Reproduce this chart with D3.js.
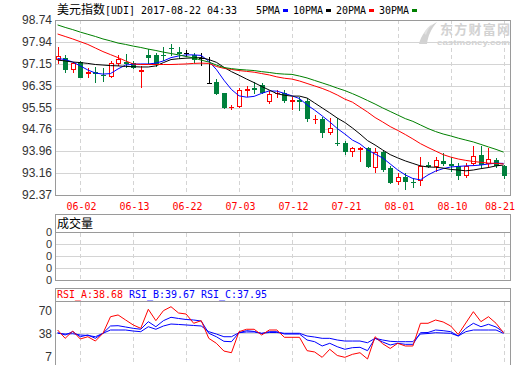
<!DOCTYPE html>
<html>
<head>
<meta charset="utf-8">
<script src="https://cdn.jsdelivr.net/npm/d3@7"></script>
<style>
  body { margin: 0; background: #fff; }
  svg { display: block; }
</style>
</head>
<body>
<div id="chart"></div>
<script>
// trading days shown on the chart
const dates = ["05-30","05-31","06-01","06-02","06-05","06-06","06-07","06-08","06-09","06-12",
    "06-13","06-14","06-15","06-16","06-19","06-20","06-21","06-22","06-23","06-26",
    "06-27","06-28","06-29","06-30","07-03","07-04","07-05","07-06","07-07","07-10",
    "07-11","07-12","07-13","07-14","07-17","07-18","07-19","07-20","07-21","07-24",
    "07-25","07-26","07-27","07-28","07-31","08-01","08-02","08-03","08-04","08-07",
    "08-08","08-09","08-10","08-11","08-14","08-15","08-16","08-17","08-18","08-21"];

const opens = [97.32,97.35,96.97,97.22,96.81,96.84,96.74,96.71,97.19,97.21,
    97.19,96.90,97.45,97.46,97.47,97.73,97.58,97.53,97.47,97.35,
    96.46,96.49,96.07,95.57,95.62,96.20,96.26,96.37,95.80,96.08,
    96.08,95.79,95.81,95.80,95.12,95.12,94.67,94.28,94.25,93.98,
    94.06,94.07,93.40,93.95,93.34,92.88,93.04,92.86,92.92,93.46,
    93.41,93.62,93.49,93.41,93.09,93.52,93.82,93.52,93.64,93.43];
const highs = [97.76,97.45,97.22,97.26,96.98,97.04,96.99,97.26,97.46,97.50,
    97.25,97.06,97.67,97.55,97.76,97.87,97.77,97.65,97.53,97.53,
    97.40,96.58,96.09,95.65,96.25,96.34,96.49,96.44,96.17,96.19,
    96.19,95.93,95.93,95.89,95.28,95.20,95.16,95.16,94.35,94.13,
    94.13,94.13,94.07,94.01,93.43,93.16,93.16,92.98,93.77,93.58,
    93.76,93.89,93.76,93.52,93.52,94.15,94.15,94.09,93.72,93.46];
const lows = [97.17,96.86,96.86,96.65,96.65,96.50,96.53,96.65,97.10,97.04,
    97.00,96.31,97.17,97.06,97.30,97.46,97.35,97.43,97.22,97.10,
    96.43,96.05,95.53,95.49,95.58,95.97,96.07,96.07,95.73,95.95,
    95.75,95.49,95.46,95.07,94.98,94.49,94.59,94.19,93.86,93.79,
    93.62,93.38,93.22,93.25,92.79,92.77,92.58,92.65,92.74,93.38,
    93.26,93.46,93.26,92.94,93.04,93.46,93.38,93.38,93.38,92.98];
const closes = [97.42,96.95,97.18,96.68,96.83,96.82,96.72,97.16,97.31,97.19,
    97.04,96.93,97.41,97.14,97.45,97.71,97.55,97.53,97.31,97.35,
    96.46,96.07,95.58,95.59,96.19,96.22,96.24,96.13,96.04,96.10,
    95.83,95.81,95.79,95.16,95.14,94.67,94.80,94.26,93.98,94.07,
    94.08,93.43,93.95,93.30,92.85,93.01,92.89,92.84,93.42,93.44,
    93.64,93.52,93.47,93.09,93.41,93.79,93.50,93.67,93.45,93.09];

// moving averages as drawn
const ma5 = [97.34,97.30,97.21,97.07,96.92,96.81,96.77,96.79,96.96,97.10,
    97.13,97.14,97.14,97.17,97.25,97.37,97.43,97.47,97.47,97.45,
    97.24,96.94,96.55,96.21,95.98,95.93,95.96,96.07,96.16,96.15,
    96.07,95.98,95.88,95.65,95.46,95.25,95.03,94.79,94.59,94.37,
    94.23,94.01,93.86,93.72,93.50,93.28,93.10,92.97,92.92,93.10,
    93.24,93.33,93.39,93.41,93.43,93.44,93.46,93.50,93.53,93.52];
const ma10 = [97.28,97.25,97.21,97.19,97.16,97.12,97.10,97.08,97.07,97.05,
    97.04,97.03,97.03,97.07,97.19,97.30,97.33,97.35,97.36,97.37,
    97.30,97.20,97.02,96.86,96.73,96.59,96.46,96.32,96.19,96.06,
    96.00,95.97,95.97,95.90,95.72,95.54,95.36,95.17,95.01,94.81,
    94.59,94.35,94.19,94.01,93.84,93.72,93.61,93.52,93.43,93.39,
    93.38,93.35,93.30,93.28,93.25,93.28,93.33,93.37,93.43,93.46];
const ma20 = [98.23,98.14,98.05,97.95,97.85,97.72,97.59,97.48,97.37,97.25,
    97.14,97.12,97.12,97.12,97.12,97.12,97.13,97.14,97.16,97.17,
    97.16,97.05,96.98,96.94,96.90,96.87,96.84,96.79,96.74,96.67,
    96.62,96.59,96.52,96.43,96.34,96.25,96.14,96.01,95.86,95.75,
    95.57,95.39,95.19,95.03,94.86,94.72,94.57,94.41,94.24,94.10,
    93.97,93.84,93.75,93.68,93.63,93.59,93.56,93.53,93.52,93.50];
const ma30 = [98.56,98.47,98.39,98.30,98.22,98.14,98.05,97.98,97.90,97.85,
    97.79,97.74,97.68,97.63,97.57,97.52,97.47,97.41,97.36,97.28,
    97.21,97.10,97.01,96.97,96.94,96.92,96.90,96.86,96.83,96.79,
    96.77,96.76,96.70,96.63,96.54,96.45,96.36,96.26,96.17,96.06,
    95.94,95.81,95.68,95.54,95.41,95.28,95.15,95.05,94.92,94.79,
    94.68,94.59,94.52,94.44,94.37,94.30,94.21,94.12,94.03,93.93];

// RSI lines
const rsiA = [42.6,31.2,41.2,30.3,33.4,27.5,38.1,60.8,63.2,56.3,
    49.5,44.9,71.0,55.4,69.1,74.5,65.9,64.5,51.8,55.4,
    31.2,24.4,13.8,11.5,40.3,43.6,43.6,35.8,42.6,42.6,
    32.6,32.6,32.6,14.3,12.5,5.2,16.2,7.7,5.2,9.3,
    11.5,2.9,33.4,23.8,17.3,24.4,20.7,20.7,51.8,51.8,
    56.3,53.6,48.1,36.5,52.2,67.7,54.0,60.8,51.8,38.68];
const rsiB = [39.0,35.8,40.3,33.4,35.8,31.2,38.1,48.1,48.5,46.7,
    44.9,43.6,54.0,47.1,55.4,60.0,58.4,57.0,56.3,54.9,
    38.1,33.4,27.1,26.6,38.9,41.7,40.6,37.8,40.3,40.3,
    37.1,37.1,37.1,28.9,26.6,20.7,24.4,19.7,16.2,18.4,
    18.9,14.3,31.2,26.2,22.1,24.4,23.0,23.0,38.9,39.2,
    42.6,41.7,40.3,34.4,44.9,51.8,47.1,50.4,46.7,39.67];
const rsiC = [38.1,37.1,37.5,35.8,35.1,33.4,38.1,42.6,42.6,42.6,
    41.2,40.3,47.1,43.6,48.1,50.8,50.2,49.5,48.8,48.1,
    40.3,37.1,33.4,33.4,38.9,39.9,39.9,38.1,39.2,39.2,
    38.1,38.1,38.1,34.4,33.0,31.2,31.2,28.9,27.5,27.5,
    27.5,25.2,31.2,28.9,27.1,26.6,26.6,26.6,37.1,37.8,
    38.9,38.5,38.1,34.4,40.3,42.6,42.6,42.6,42.6,37.95];

// axis labels
const priceTicks = [98.74, 97.94, 97.15, 96.35, 95.55, 94.76, 93.96, 93.16, 92.37];
const dateTicks = ["06-02","06-13","06-22","07-03","07-12","07-21","08-01","08-10","08-21"];
const volumeTicks = ["0","0","0","0","0"];
const rsiTicks = [70, 38, 7];
const maNames = ["5PMA","10PMA","20PMA","30PMA"];

document.addEventListener("DOMContentLoaded", function() {
    const width = 520, height = 365;
    const left = 55.5, right = 510.5;
    const gridColor = "#d4d4d4", borderColor = "#9a9a9a";
    const upColor = "#ff0000", downColor = "#00803c";
    const maColors = ["#0000ff", "#000000", "#ff0000", "#008000"];
    const mono = "'DejaVu Sans Mono', monospace";
    const sans = "'Liberation Sans', Arial, sans-serif";
    const cjk = "'Noto Sans CJK SC', sans-serif";

    const svg = d3.select("#chart").append("svg")
        .attr("width", width)
        .attr("height", height);

    const x = d3.scalePoint().domain(dates).range([57.6, 503.6]);
    const px = d => Math.round(x(d)) + 0.5;
    const y = d3.scaleLinear()
        .domain([priceTicks[priceTicks.length - 1], priceTicks[0]])
        .range([195, 20]);
    const yV = d3.scalePoint().domain(d3.range(volumeTicks.length)).range([280, 232]);
    const yR = d3.scaleLinear().domain([7, 70]).range([356, 310]);

    // ---- title + legend
    svg.append("text").attr("x", 57).attr("y", 14)
        .style("font", "12px " + cjk).attr("fill", "#000").text("美元指数");
    svg.append("text").attr("x", 105).attr("y", 14)
        .style("font", "11px " + mono).attr("fill", "#000")
        .attr("textLength", 132).attr("lengthAdjust", "spacingAndGlyphs")
        .text("[UDI] 2017-08-22 04:33");

    let lx = 256;
    maNames.forEach((name, i) => {
        const w = name.length * 6;
        svg.append("text").attr("x", lx).attr("y", 14)
            .style("font", "11px " + mono).attr("fill", "#000")
            .attr("textLength", w).attr("lengthAdjust", "spacingAndGlyphs")
            .text(name);
        svg.append("rect").attr("x", lx + w + 3).attr("y", 9)
            .attr("width", 5).attr("height", 3).attr("fill", maColors[i]);
        lx += w + 13;
    });

    // ---- watermark
    const wm = svg.append("g").attr("fill", "#d2d2d2");
    wm.append("path").attr("d", "M419,44 C421,35 427,27 437,22 C431,29 428,36 427,44 Z");
    wm.append("path").attr("d", "M424,33 C426,29 429,26 432,24 C429,28 427,31 426,35 Z").attr("fill", "#e2e2e2");
    wm.append("text").attr("x", 440).attr("y", 34)
        .style("font", "bold 13px " + cjk).attr("textLength", 70).text("东方财富网");
    wm.append("text").attr("x", 437).attr("y", 45)
        .style("font", "bold 8px " + sans).attr("textLength", 73)
        .attr("lengthAdjust", "spacingAndGlyphs").text("eastmoney.com");

    // ---- main panel grid
    const grid = svg.append("g").attr("shape-rendering", "crispEdges");
    grid.selectAll("line.h").data(priceTicks).join("line")
        .attr("x1", left).attr("x2", right)
        .attr("y1", d => Math.round(y(d)) + 0.5).attr("y2", d => Math.round(y(d)) + 0.5)
        .attr("stroke", gridColor);
    grid.selectAll("line.v").data(dateTicks).join("line")
        .attr("x1", d => px(d)).attr("x2", d => px(d))
        .attr("y1", 20).attr("y2", 195)
        .attr("stroke", gridColor).attr("stroke-dasharray", "4,3");

    svg.append("g").selectAll("text").data(priceTicks).join("text")
        .attr("x", 52).attr("y", d => Math.round(y(d)) + 4)
        .attr("text-anchor", "end")
        .style("font", "12px " + sans).attr("fill", "#333")
        .text(d => d.toFixed(2));

    // date labels; the last one is kept inside the right edge
    svg.append("g").selectAll("text").data(dateTicks).join("text")
        .attr("x", d => Math.min(px(d) + 1, width - 20)).attr("y", 210)
        .attr("text-anchor", "middle")
        .style("font", "11px " + mono).attr("fill", "#ff0000")
        .attr("textLength", 30).attr("lengthAdjust", "spacingAndGlyphs")
        .text(d => d);

    // ---- candles
    const candles = dates.map((d, i) => ({
        date: d, open: opens[i], high: highs[i], low: lows[i], close: closes[i]
    }));
    const candleColor = d => d.close > d.open ? upColor : (d.close < d.open ? downColor : "#000");

    const cg = svg.append("g").attr("shape-rendering", "crispEdges")
        .selectAll("g").data(candles).join("g");
    cg.append("line")
        .attr("x1", d => px(d.date)).attr("x2", d => px(d.date))
        .attr("y1", d => Math.round(y(d.high))).attr("y2", d => Math.round(y(d.low)) + 1)
        .attr("stroke", candleColor);
    cg.each(function(d) {
        const top = Math.round(y(Math.max(d.open, d.close)));
        const bot = Math.round(y(Math.min(d.open, d.close)));
        const cx = Math.round(x(d.date));
        if (bot - top < 1) {
            d3.select(this).append("line")
                .attr("x1", cx - 2).attr("x2", cx + 3)
                .attr("y1", top + 0.5).attr("y2", top + 0.5)
                .attr("stroke", candleColor(d));
        } else {
            d3.select(this).append("rect")
                .attr("x", cx - 1.5).attr("y", top + 0.5)
                .attr("width", 4).attr("height", bot - top)
                .attr("fill", d.close > d.open ? "#fff" : candleColor(d))
                .attr("stroke", candleColor(d));
        }
    });

    // ---- moving averages
    const maLine = d3.line().x((v, i) => x(dates[i])).y(v => y(v));
    [ma5, ma10, ma20, ma30].forEach((series, i) => {
        svg.append("path").datum(series)
            .attr("d", maLine)
            .attr("fill", "none")
            .attr("stroke", maColors[i])
            .attr("stroke-width", 1);
    });

    svg.append("rect").attr("x", left).attr("y", 20.5)
        .attr("width", right - left).attr("height", 175)
        .attr("fill", "none").attr("stroke", borderColor)
        .attr("shape-rendering", "crispEdges");

    // ---- volume panel (no volume for the index)
    const vol = svg.append("g").attr("shape-rendering", "crispEdges");
    vol.selectAll("line.h").data(d3.range(1, volumeTicks.length - 1)).join("line")
        .attr("x1", left).attr("x2", right)
        .attr("y1", d => yV(d) + 0.5).attr("y2", d => yV(d) + 0.5)
        .attr("stroke", gridColor);
    vol.selectAll("line.v").data(dateTicks).join("line")
        .attr("x1", d => px(d)).attr("x2", d => px(d))
        .attr("y1", 233).attr("y2", 280)
        .attr("stroke", gridColor).attr("stroke-dasharray", "4,3");
    vol.append("rect").attr("x", left).attr("y", 214.5)
        .attr("width", right - left).attr("height", 18)
        .attr("fill", "none").attr("stroke", borderColor);
    vol.append("rect").attr("x", left).attr("y", 232.5)
        .attr("width", right - left).attr("height", 48)
        .attr("fill", "none").attr("stroke", borderColor);
    svg.append("text").attr("x", 57).attr("y", 228)
        .style("font", "12px " + cjk).attr("fill", "#000").text("成交量");
    svg.append("g").selectAll("text").data(volumeTicks).join("text")
        .attr("x", 52).attr("y", (d, i) => yV(i) + 4)
        .attr("text-anchor", "end")
        .style("font", "11px " + sans).attr("fill", "#333")
        .text(d => d);

    // ---- RSI panel
    const rsi = svg.append("g").attr("shape-rendering", "crispEdges");
    rsi.append("line").attr("x1", left).attr("x2", right)
        .attr("y1", Math.round(yR(38)) + 0.5).attr("y2", Math.round(yR(38)) + 0.5)
        .attr("stroke", gridColor);
    rsi.selectAll("line.v").data(dateTicks).join("line")
        .attr("x1", d => px(d)).attr("x2", d => px(d))
        .attr("y1", 302).attr("y2", height)
        .attr("stroke", gridColor).attr("stroke-dasharray", "4,3");
    rsi.append("rect").attr("x", left).attr("y", 288.5)
        .attr("width", right - left).attr("height", 13)
        .attr("fill", "none").attr("stroke", borderColor);
    rsi.append("line").attr("x1", left).attr("x2", left)
        .attr("y1", 301.5).attr("y2", height).attr("stroke", borderColor);
    rsi.append("line").attr("x1", right).attr("x2", right)
        .attr("y1", 301.5).attr("y2", height).attr("stroke", borderColor);

    const rsiSeries = [
        { name: "RSI_A", values: rsiA, color: "#ff0000" },
        { name: "RSI_B", values: rsiB, color: "#0000ff" },
        { name: "RSI_C", values: rsiC, color: "#0000ff" }
    ];
    rsiSeries.forEach((s, i) => {
        const label = s.name + ":" + s.values[s.values.length - 1].toFixed(2);
        svg.append("text").attr("x", 57 + i * 72).attr("y", 297.5)
            .style("font", "11px " + mono).attr("fill", s.color)
            .attr("textLength", label.length * 6).attr("lengthAdjust", "spacingAndGlyphs")
            .text(label);
    });

    const rsiLine = d3.line().x((v, i) => x(dates[i])).y(v => yR(v));
    rsiSeries.slice().reverse().forEach(s => {
        svg.append("path").datum(s.values)
            .attr("d", rsiLine)
            .attr("fill", "none")
            .attr("stroke", s.color)
            .attr("stroke-width", 1);
    });

    svg.append("g").selectAll("text").data(rsiTicks).join("text")
        .attr("x", 52).attr("y", d => Math.round(yR(d)) + 4.5)
        .attr("text-anchor", "end")
        .style("font", "12px " + sans).attr("fill", "#333")
        .text(d => d);
});
</script>
</body>
</html>
